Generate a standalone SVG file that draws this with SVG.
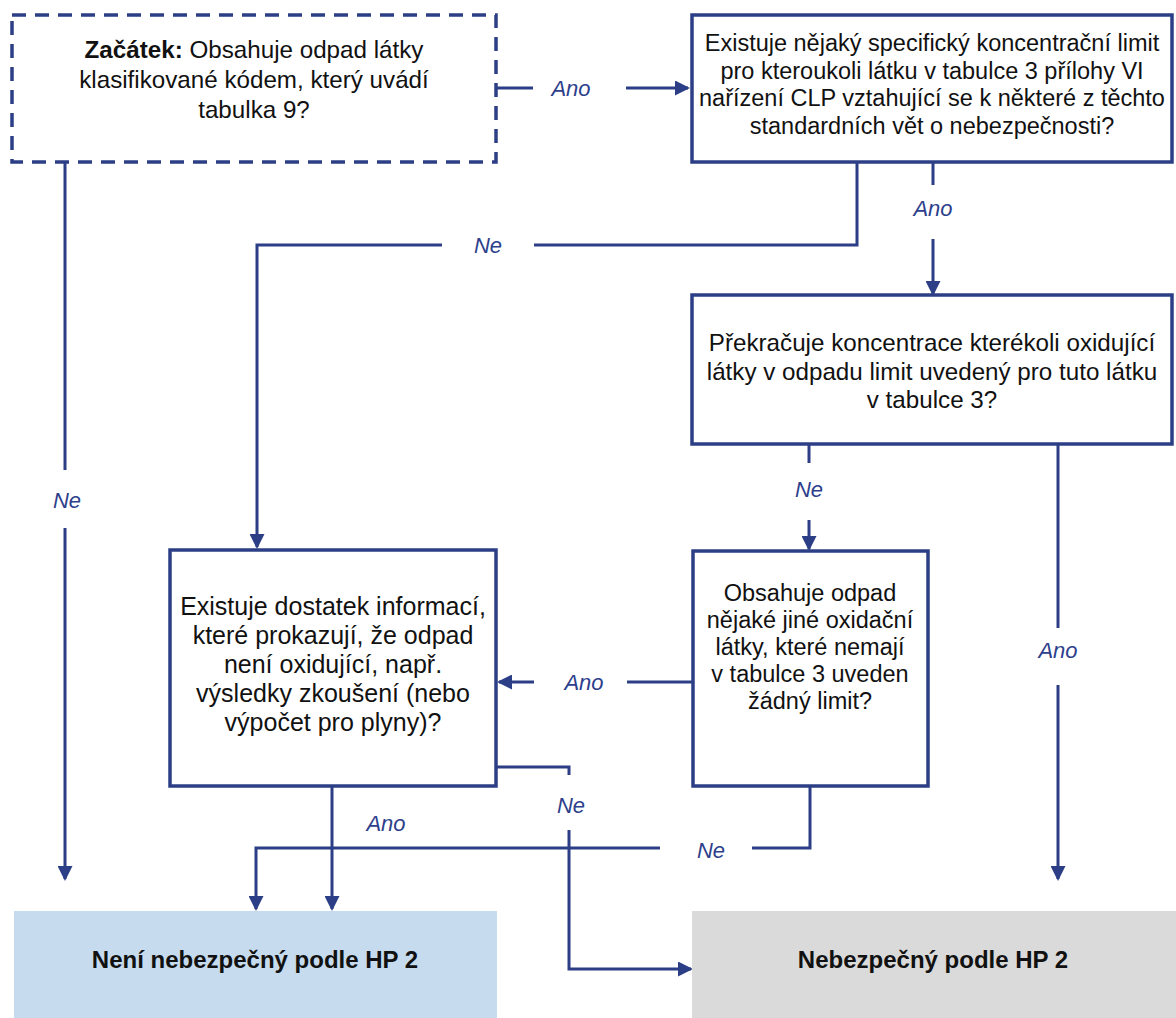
<svg xmlns="http://www.w3.org/2000/svg" width="1176" height="1018" viewBox="0 0 1176 1018">
<style>
.box{fill:#ffffff;stroke:#2c3f86;stroke-width:3.5}
.dash{fill:#ffffff;stroke:#2c3f86;stroke-width:3.5;stroke-dasharray:14 9}
.t{font-family:"Liberation Sans",Arial,sans-serif;font-size:23.5px;fill:#111111;text-anchor:middle}
.t24{font-size:24.2px}
.t25{font-size:25px}
.b{font-weight:bold}
.lbl{font-family:"Liberation Sans",Arial,sans-serif;font-size:22px;font-style:italic;fill:#2e3f8c;text-anchor:middle}
.res{font-family:"Liberation Sans",Arial,sans-serif;font-size:24px;font-weight:bold;fill:#111111;text-anchor:middle}
.c{fill:none;stroke:#2c3f86;stroke-width:3}
</style>
<defs>
<marker id="ah" viewBox="0 0 15 15" refX="13" refY="7.5" markerWidth="15" markerHeight="15" markerUnits="userSpaceOnUse" orient="auto">
<path d="M0,0 L15,7.5 L0,15 z" fill="#2c3f86"/>
</marker>
</defs>
<g id="connectors">
<path class="c" d="M496,88 H533"/>
<path class="c" d="M626,88 H688" marker-end="url(#ah)"/>
<path class="c" d="M857,162 V245 H534"/>
<path class="c" d="M442,245 H257 V547" marker-end="url(#ah)"/>
<path class="c" d="M933,162 V185"/>
<path class="c" d="M933,239 V294" marker-end="url(#ah)"/>
<path class="c" d="M809,444 V463"/>
<path class="c" d="M809,520 V549" marker-end="url(#ah)"/>
<path class="c" d="M1058,444 V628"/>
<path class="c" d="M1058,685 V879" marker-end="url(#ah)"/>
<path class="c" d="M693,682 H627"/>
<path class="c" d="M534,682 H499" marker-end="url(#ah)"/>
<path class="c" d="M496,767 H569 V775"/>
<path class="c" d="M569,830 V969 H691" marker-end="url(#ah)"/>
<path class="c" d="M332,786 V909" marker-end="url(#ah)"/>
<path class="c" d="M810,786 V848 H752"/>
<path class="c" d="M660,848 H256 V909" marker-end="url(#ah)"/>
<path class="c" d="M65,162 V470"/>
<path class="c" d="M65,528 V879" marker-end="url(#ah)"/>
<text class="lbl" x="571" y="96">Ano</text>
<text class="lbl" x="488" y="253">Ne</text>
<text class="lbl" x="933" y="216">Ano</text>
<text class="lbl" x="809" y="497">Ne</text>
<text class="lbl" x="1058" y="658">Ano</text>
<text class="lbl" x="584" y="690">Ano</text>
<text class="lbl" x="571" y="813">Ne</text>
<text class="lbl" x="386" y="831">Ano</text>
<text class="lbl" x="711" y="858">Ne</text>
<text class="lbl" x="67" y="508">Ne</text>
</g>
<g id="start">
<rect class="dash" x="12" y="15" width="484" height="147"/>
<text class="t t24" x="254" y="58"><tspan class="b">Začátek:</tspan> Obsahuje odpad látky</text>
<text class="t t24" x="254" y="88">klasifikované kódem, který uvádí</text>
<text class="t t24" x="254" y="118">tabulka 9?</text>
</g>
<g id="q-limit">
<rect class="box" x="692" y="15" width="480" height="147"/>
<text class="t" x="932" y="51">Existuje nějaký specifický koncentrační limit</text>
<text class="t" x="932" y="79">pro kteroukoli látku v tabulce 3 přílohy VI</text>
<text class="t" x="932" y="106">nařízení CLP vztahující se k některé z těchto</text>
<text class="t" x="932" y="134">standardních vět o nebezpečnosti?</text>
</g>
<g id="q-exceed">
<rect class="box" x="692" y="295" width="480" height="149"/>
<text class="t t24" x="932" y="351">Překračuje koncentrace kterékoli oxidující</text>
<text class="t t24" x="932" y="380">látky v odpadu limit uvedený pro tuto látku</text>
<text class="t t24" x="932" y="408">v tabulce 3?</text>
</g>
<g id="q-info">
<rect class="box" x="170" y="550" width="326" height="236"/>
<text class="t t25" x="333" y="615">Existuje dostatek informací,</text>
<text class="t t25" x="333" y="644">které prokazují, že odpad</text>
<text class="t t25" x="333" y="673">není oxidující, např.</text>
<text class="t t25" x="333" y="702">výsledky zkoušení (nebo</text>
<text class="t t25" x="333" y="731">výpočet pro plyny)?</text>
</g>
<g id="q-other">
<rect class="box" x="693" y="551" width="235" height="235"/>
<text class="t" x="810" y="601">Obsahuje odpad</text>
<text class="t" x="810" y="628">nějaké jiné oxidační</text>
<text class="t" x="810" y="655">látky, které nemají</text>
<text class="t" x="810" y="682">v tabulce 3 uveden</text>
<text class="t" x="810" y="709">žádný limit?</text>
</g>
<g id="not-hazardous">
<rect x="14" y="911" width="483" height="107" fill="#c6dcee"/>
<text class="res" x="255" y="968">Není nebezpečný podle HP 2</text>
</g>
<g id="hazardous">
<rect x="692" y="911" width="484" height="107" fill="#dadada"/>
<text class="res" x="933" y="968">Nebezpečný podle HP 2</text>
</g>
</svg>
